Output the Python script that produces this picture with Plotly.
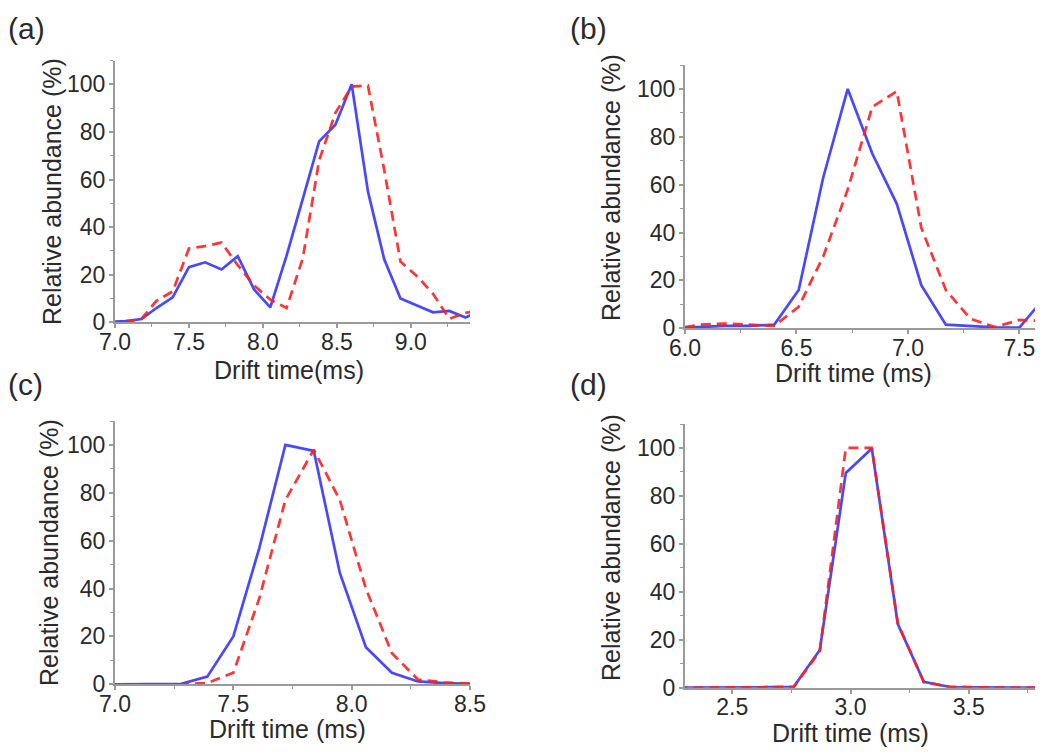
import plotly.graph_objects as go

# ---------------- data ----------------
# (a)
xa_blue = [7.00, 7.07, 7.18, 7.28, 7.39, 7.50, 7.61, 7.72, 7.83, 7.94, 8.05, 8.16, 8.27,
           8.38, 8.49, 8.60, 8.71, 8.82, 8.93, 9.04, 9.15, 9.26, 9.37, 9.48]
ya_blue = [0.3, 0.5, 1.4, 6, 10.5, 23.2, 25.2, 22.2, 27.8, 13.8, 6.3, 28, 52,
           76, 83, 100, 55, 26.5, 10, 7, 4.2, 4.8, 2, 5]
xa_red = [7.07, 7.18, 7.28, 7.39, 7.50, 7.61, 7.72, 7.83, 7.94, 8.05, 8.16, 8.27,
          8.38, 8.49, 8.60, 8.71, 8.82, 8.93, 9.04, 9.15, 9.26, 9.37, 9.48]
ya_red = [0, 1.5, 9, 13, 31, 32, 33.5, 24, 15.5, 9.5, 6, 27,
          68, 88, 99, 99.5, 64, 25.5, 19.5, 12, 1.5, 4, 5]

# (b)
xb = [6.00, 6.07, 6.18, 6.29, 6.40, 6.51, 6.62, 6.73, 6.84, 6.95, 7.06, 7.17, 7.28, 7.39, 7.50, 7.61]
yb_blue = [0.3, 0.5, 1.0, 1.0, 1.5, 16, 63, 100, 73, 52, 18, 1.5, 0.8, 0.4, 0.3, 12.5]
yb_red = [0.5, 1.5, 2.0, 1.5, 1.0, 9, 30, 58, 92.5, 99, 42, 16, 4, 0.5, 3.5, 3]

# (c)
xc = [7.00, 7.06, 7.17, 7.28, 7.39, 7.50, 7.61, 7.72, 7.84, 7.95, 8.06, 8.17, 8.28, 8.39, 8.50]
yc_blue = [0, 0, 0, 0.2, 3.2, 20, 57, 100, 97.5, 46.5, 15.5, 4.8, 1.2, 0.5, 0.2]
yc_red = [0, 0, 0, 0, 0.5, 4.8, 36, 77, 98, 77, 40, 13, 2, 0.8, 0.3]

# (d)
xd = [2.20, 2.31, 2.42, 2.53, 2.64, 2.76, 2.87, 2.98, 3.09, 3.20, 3.31, 3.42, 3.53, 3.64, 3.75, 3.86]
yd_blue = [0, 0, 0, 0, 0.2, 0.4, 15.7, 89.6, 99.8, 26.5, 2.5, 0.3, 0.1, 0, 0, 0]
yd_red = [0, 0, 0, 0, 0.2, 0.4, 15.2, 100, 100, 26.8, 2.3, 0.4, 0.1, 0, 0, 0]

panel_labels = ["(a)", "(b)", "(c)", "(d)"]
x_titles = ["Drift time(ms)", "Drift time (ms)", "Drift time (ms)", "Drift time (ms)"]
y_title = "Relative abundance (%)"
x_ranges = [[7.0, 9.4], [6.0, 7.57], [7.0, 8.5], [2.3, 3.78]]

# ---------------- style ----------------
OFF = 8                     # page body margin of the html page
W, H = 1050 - OFF, 755 - OFF
BLUE = "rgba(40,40,255,0.85)"
RED = "rgba(255,30,30,0.9)"
AXC = "#9a9a9a"
TXT = "#2a2a2a"
FONT = "Liberation Sans, Arial, sans-serif"


def fx(px):
    return (px - OFF) / W


def fy(py):
    return 1 - (py - OFF) / H


# pixel boxes in window coords (left, top, right, bottom)
boxes = [(115, 60.5, 470, 322.3), (685, 65, 1035, 328.3),
         (115, 421, 470, 684.3), (685, 424, 1035, 687.7)]

series = [(xa_blue, ya_blue, xa_red, ya_red), (xb, yb_blue, xb, yb_red),
          (xc, yc_blue, xc, yc_red), (xd, yd_blue, xd, yd_red)]

fig = go.Figure()
layout = {}
annotations = []

label_pos = [(26, 28), (588, 28), (25, 385), (588, 385)]
xt_pos = [(289, 370), (853, 373), (287, 729), (850, 733)]
yt_pos = [(52, 192), (611, 188), (49, 553), (611, 548)]

for i in range(4):
    sfx = "" if i == 0 else str(i + 1)
    l, t, r, b = boxes[i]
    xdom = [fx(l), fx(r)]
    ydom = [fy(b), fy(t)]
    xb_, yb_, xr_, yr_ = series[i]
    fig.add_trace(go.Scatter(x=xb_, y=yb_, mode="lines",
                             line=dict(color=BLUE, width=2.7),
                             xaxis="x" + sfx, yaxis="y" + sfx, showlegend=False))
    fig.add_trace(go.Scatter(x=xr_, y=yr_, mode="lines",
                             line=dict(color=RED, width=2.7, dash="10px,6px"),
                             xaxis="x" + sfx, yaxis="y" + sfx, showlegend=False))
    common = dict(showline=True, linecolor=AXC, linewidth=2, ticks="outside",
                  ticklen=4, tickwidth=1.5, tickcolor=AXC, showgrid=False,
                  zeroline=False, automargin=False,
                  tickfont=dict(family=FONT, size=23, color=TXT))
    layout["xaxis" + sfx] = dict(domain=xdom, range=x_ranges[i], anchor="y" + sfx,
                                 dtick=0.5, tick0=0, tickformat=".1f",
                                 ticklabelstandoff=-6,
                                 minor=dict(dtick=0.25, ticks="outside", ticklen=3,
                                            tickcolor=AXC, tickwidth=1.2, showgrid=False),
                                 **common)
    layout["yaxis" + sfx] = dict(domain=ydom, range=[0, 110], anchor="x" + sfx,
                                 dtick=20, tick0=0, ticklabelstandoff=-1,
                                 minor=dict(dtick=10, ticks="outside", ticklen=3,
                                            tickcolor=AXC, tickwidth=1.2, showgrid=False),
                                 **common)
    px_, py_ = label_pos[i]
    annotations.append(dict(text=panel_labels[i], x=fx(px_), y=fy(py_),
                            xref="paper", yref="paper", showarrow=False,
                            xanchor="center", yanchor="middle",
                            font=dict(family=FONT, size=30, color=TXT)))
    px_, py_ = xt_pos[i]
    annotations.append(dict(text=x_titles[i], x=fx(px_), y=fy(py_),
                            xref="paper", yref="paper", showarrow=False,
                            xanchor="center", yanchor="middle",
                            font=dict(family=FONT, size=25, color=TXT)))
    px_, py_ = yt_pos[i]
    annotations.append(dict(text=y_title, x=fx(px_), y=fy(py_),
                            xref="paper", yref="paper", showarrow=False,
                            textangle=-90, xanchor="center", yanchor="middle",
                            font=dict(family=FONT, size=25, color=TXT)))

fig.update_layout(width=W, height=H, margin=dict(l=0, r=0, t=0, b=0, autoexpand=False),
                  paper_bgcolor="white", plot_bgcolor="white",
                  annotations=annotations, **layout)

fig.write_html("out.html")
